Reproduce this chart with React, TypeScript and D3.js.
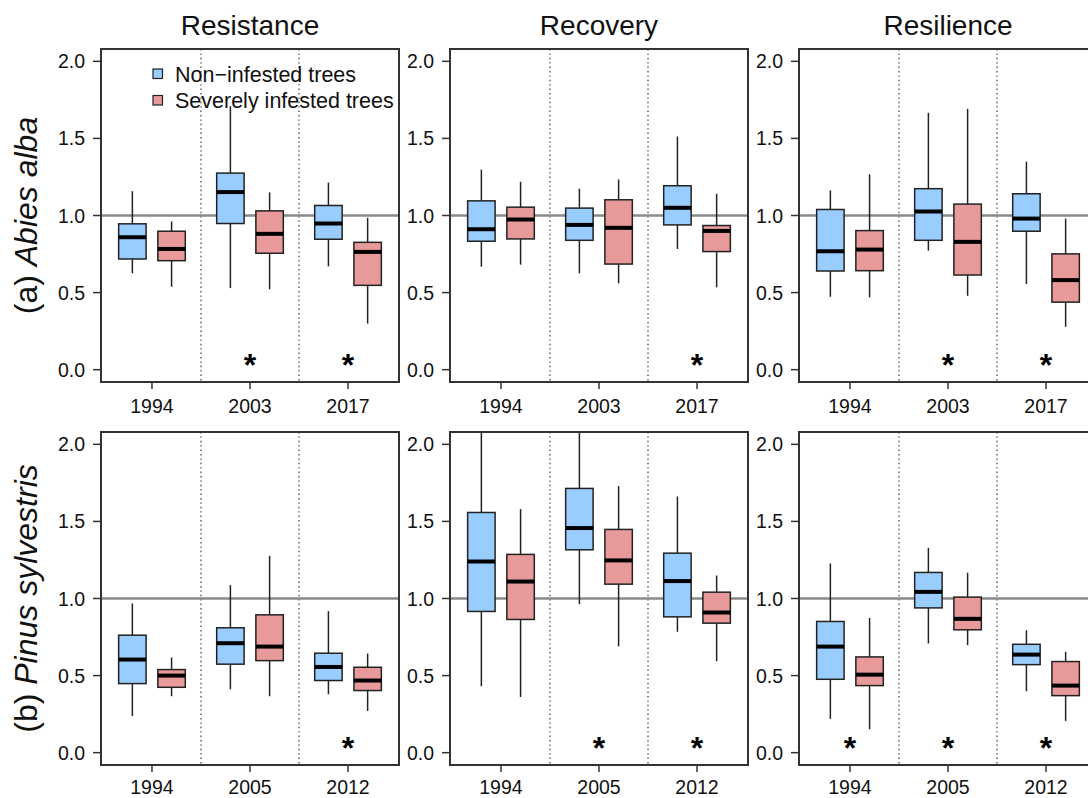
import React from "react";
import * as d3 from "d3";

// indices (columns) and species (rows)
const indices = ["Resistance", "Recovery", "Resilience"];
const speciesTag = ["(a) ", "(b) "];
const speciesName = ["Abies alba", "Pinus sylvestris"];
const abiesYears = ["1994", "2003", "2017"];
const pinusYears = ["1994", "2005", "2012"];
const groups = ["Non\u2212infested trees", "Severely infested trees"];
const yTicks = [0, 0.5, 1.0, 1.5, 2.0];

// box stats per index, per year: [lower whisker, q1, median, q3, upper whisker]
const abiesNon = [
  [[0.625, 0.718, 0.859, 0.946, 1.158], [0.529, 0.948, 1.152, 1.275, 1.709], [0.67, 0.846, 0.948, 1.065, 1.213]],
  [[0.668, 0.833, 0.911, 1.095, 1.297], [0.625, 0.839, 0.939, 1.048, 1.174], [0.783, 0.939, 1.05, 1.193, 1.512]],
  [[0.473, 0.64, 0.768, 1.039, 1.163], [0.772, 0.839, 1.026, 1.174, 1.666], [0.555, 0.898, 0.98, 1.141, 1.349]],
];
const abiesSev = [
  [[0.538, 0.707, 0.783, 0.898, 0.961], [0.521, 0.755, 0.881, 1.03, 1.15], [0.299, 0.547, 0.764, 0.826, 0.985]],
  [[0.681, 0.848, 0.974, 1.054, 1.219], [0.56, 0.685, 0.92, 1.102, 1.234], [0.534, 0.766, 0.9, 0.935, 1.141]],
  [[0.469, 0.642, 0.779, 0.902, 1.267], [0.479, 0.614, 0.829, 1.074, 1.692], [0.278, 0.438, 0.581, 0.751, 0.98]],
];
const pinusNon = [
  [[0.238, 0.448, 0.604, 0.762, 0.968], [0.411, 0.574, 0.71, 0.81, 1.087], [0.379, 0.468, 0.556, 0.645, 0.918]],
  [[0.431, 0.916, 1.24, 1.558, 2.3], [0.963, 1.316, 1.457, 1.714, 2.2], [0.784, 0.881, 1.113, 1.294, 1.662]],
  [[0.219, 0.476, 0.688, 0.851, 1.227], [0.708, 0.939, 1.043, 1.169, 1.329], [0.398, 0.571, 0.636, 0.703, 0.794]],
];
const pinusSev = [
  [[0.366, 0.424, 0.5, 0.539, 0.617], [0.366, 0.597, 0.688, 0.894, 1.277], [0.271, 0.403, 0.468, 0.554, 0.643]],
  [[0.361, 0.864, 1.11, 1.286, 1.58], [0.69, 1.093, 1.247, 1.448, 1.729], [0.593, 0.84, 0.909, 1.041, 1.149]],
  [[0.152, 0.435, 0.506, 0.621, 0.874], [0.697, 0.797, 0.868, 1.009, 1.167], [0.206, 0.37, 0.435, 0.591, 0.654]],
];
// significant difference markers
const abiesSig = [[false, true, true], [false, false, true], [false, true, true]];
const pinusSig = [[false, false, true], [false, true, true], [true, true, true]];

const font = "'Liberation Sans', Arial, Helvetica, sans-serif";
const colors = ["#99CCFF", "#E89A9A"];
const W = 1088;
const H = 798;
const panelLeft = [101, 450, 799];
const panelW = 298;
const rowTop = [49, 432];
const panelH = 333;
const labelOffset = [31, 28.5];
const boxPos = [[1, 2], [3.5, 4.5], [6, 7]];
const boxW = 0.7;

function Panel({ row, col }: { row: number; col: number }) {
  const x0 = panelLeft[col];
  const y0 = rowTop[row];
  const x = d3.scaleLinear().domain([0.2, 7.8]).range([x0, x0 + panelW]);
  const y = d3.scaleLinear().domain([-0.08, 2.08]).range([y0 + panelH, y0]);
  const years = row === 0 ? abiesYears : pinusYears;
  const series = row === 0 ? [abiesNon[col], abiesSev[col]] : [pinusNon[col], pinusSev[col]];
  const sig = row === 0 ? abiesSig[col] : pinusSig[col];
  const clipId = `clip-${row}-${col}`;
  const bw = x(boxW) - x(0);

  return (
    <g>
      <defs>
        <clipPath id={clipId}>
          <rect x={x0} y={y0} width={panelW} height={panelH} />
        </clipPath>
      </defs>
      <g clipPath={`url(#${clipId})`}>
        {[2.75, 5.25].map((s) => (
          <line key={s} x1={x(s)} x2={x(s)} y1={y0} y2={y0 + panelH}
            stroke="#555" strokeWidth={1.4} strokeDasharray="1.4,3" />
        ))}
        <line x1={x0} x2={x0 + panelW} y1={y(1)} y2={y(1)} stroke="#8a8a8a" strokeWidth={2.6} />
        {years.map((yr, gi) =>
          series.map((s, si) => {
            const [lo, q1, med, q3, hi] = s[gi];
            const cx = x(boxPos[gi][si]);
            return (
              <g key={yr + si}>
                <line x1={cx} x2={cx} y1={y(hi)} y2={y(q3)} stroke="#222" strokeWidth={1.5} />
                <line x1={cx} x2={cx} y1={y(q1)} y2={y(lo)} stroke="#222" strokeWidth={1.5} />
                <rect x={cx - bw / 2} y={y(q3)} width={bw} height={y(q1) - y(q3)}
                  fill={colors[si]} stroke="#222" strokeWidth={1.5} />
                <line x1={cx - bw / 2} x2={cx + bw / 2} y1={y(med)} y2={y(med)} stroke="#000" strokeWidth={4} />
              </g>
            );
          })
        )}
        {sig.map((v, gi) =>
          v ? (
            <text key={gi} x={x((boxPos[gi][0] + boxPos[gi][1]) / 2)} y={y(0.07)} dy="0.55em"
              textAnchor="middle" fontSize={32} fontWeight="bold" fontFamily={font}>*</text>
          ) : null
        )}
      </g>
      <rect x={x0} y={y0} width={panelW} height={panelH} fill="none" stroke="#333" strokeWidth={2} />
      {yTicks.map((t) => (
        <g key={t}>
          <line x1={x0 - 8} x2={x0} y1={y(t)} y2={y(t)} stroke="#333" strokeWidth={1.5} />
          <text x={x0 - 16} y={y(t)} dy="0.36em" textAnchor="end" fontSize={19.5} fontFamily={font} fill="#111">
            {t.toFixed(1)}
          </text>
        </g>
      ))}
      {years.map((yr, gi) => {
        const cx = x((boxPos[gi][0] + boxPos[gi][1]) / 2);
        return (
          <g key={yr}>
            <line x1={cx} x2={cx} y1={y0 + panelH} y2={y0 + panelH + 7} stroke="#333" strokeWidth={1.5} />
            <text x={cx} y={y0 + panelH + labelOffset[row]} textAnchor="middle" fontSize={19.5} fontFamily={font} fill="#111">
              {yr}
            </text>
          </g>
        );
      })}
      {row === 0 && (
        <text x={x0 + panelW / 2} y={35} textAnchor="middle" fontSize={28} fontFamily={font} fill="#111">
          {indices[col]}
        </text>
      )}
      {col === 0 && (
        <text transform={`translate(37,${y0 + panelH / 2}) rotate(-90)`} textAnchor="middle"
          fontSize={32} fontFamily={font} fill="#111">
          {speciesTag[row]}
          <tspan fontStyle="italic">{speciesName[row]}</tspan>
        </text>
      )}
      {row === 0 && col === 0 && (
        <g>
          {groups.map((g, i) => (
            <g key={g}>
              <rect x={153} y={69 + i * 26.5} width={9.5} height={9.5} fill={colors[i]} stroke="#222" strokeWidth={1.2} />
              <text x={175} y={81.5 + i * 26.5} fontSize={21.5} fontFamily={font} fill="#111">{g}</text>
            </g>
          ))}
        </g>
      )}
    </g>
  );
}

export default function App() {
  return (
    <svg width={W} height={H} style={{ position: "absolute", left: 0, top: 0, background: "#fff" }}>
      <rect width={W} height={H} fill="#fff" />
      {[0, 1].map((r) => [0, 1, 2].map((c) => <Panel key={`${r}-${c}`} row={r} col={c} />))}
    </svg>
  );
}
